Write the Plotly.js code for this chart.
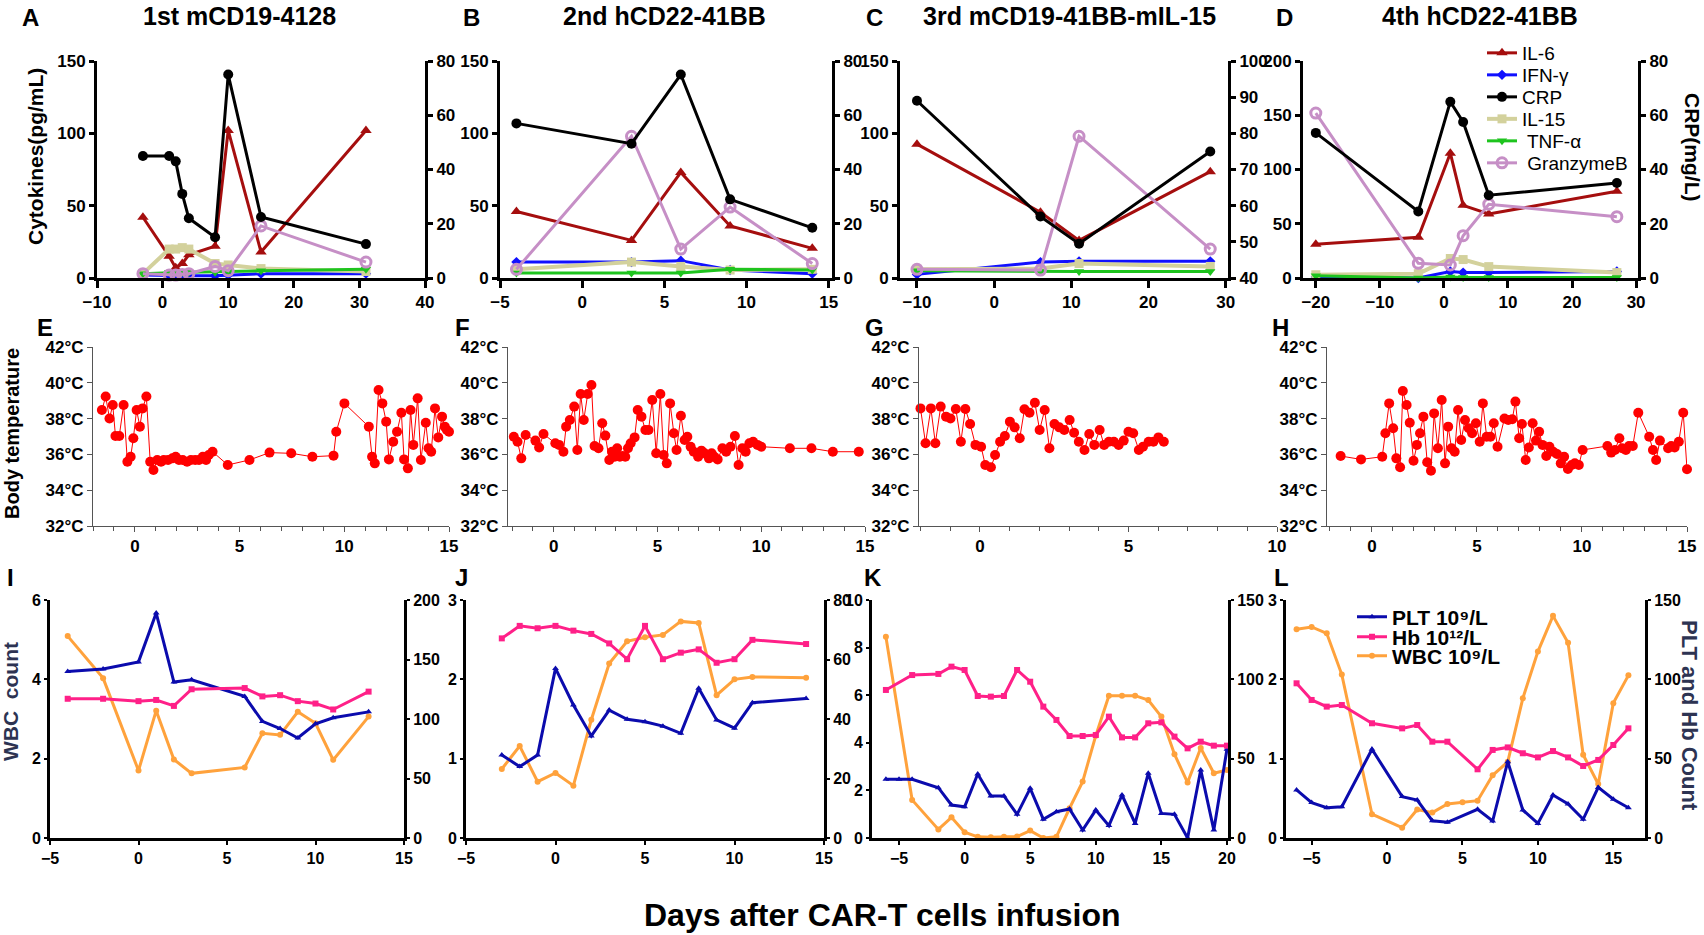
<!DOCTYPE html>
<html><head><meta charset="utf-8">
<script src="https://cdn.plot.ly/plotly-3.0.1.min.js"></script>
<style>html,body{margin:0;padding:0;background:#fff}</style>
</head><body><div id="chart" style="width:1704px;height:935px"></div>
<script>
// ---------------- Row 1: cytokines (pg/mL) and CRP (mg/L) ----------------
const A_day  = [-3, 1, 2, 3, 4, 8, 10, 15, 31];
const A_IL6  = [42, 15, 7, 10, 16, 22, 102, 18, 102];
const A_IFN  = [2, 1.5, 1.5, 1.5, 1.5, 1.5, 2, 3, 3];
const A_CRP  = [45, 45, 43, 31, 22, 15, 75, 22.5, 12.5];
const A_IL15 = [3, 20, 20, 21, 20, 10, 9, 6.5, 4.5];
const A_TNF  = [3, 4, 4, 4, 4, 4, 4.5, 5, 6];
const A_GZMB = [3, 2, 2, 2.5, 3, 8, 5, 36, 11];

const B_day  = [-4, 3, 6, 9, 14];
const B_IL6  = [46, 26, 73, 36, 20.5];
const B_IFN  = [11, 11, 12, 5.5, 3];
const B_CRP  = [57, 49.5, 75, 29, 18.5];
const B_IL15 = [6, 11, 8, 5.5, 6];
const B_TNF  = [3.5, 3.5, 3.5, 6, 5.5];
const B_GZMB = [6, 98, 20, 49, 10];

const C_day  = [-10, 6, 11, 28];
const C_IL6  = [92.5, 45.5, 26, 73.5];
const C_IFN  = [2.5, 11, 11.5, 11.5];
const C_CRP  = [89, 57, 49.5, 75];
const C_IL15 = [6, 6.5, 10, 8];
const C_TNF  = [5, 4.5, 4.5, 4.5];
const C_GZMB = [6, 5.5, 98, 20];

const D_day  = [-20, -4, 1, 3, 7, 27];
const D_IL6  = [31, 37.5, 115, 67, 59, 80];
const D_IFN  = [1, 0, 6, 5, 5, 6];
const D_CRP  = [53.5, 24.5, 65, 57.5, 30.5, 35];
const D_IL15 = [3, 4, 18, 17, 10.5, 5];
const D_TNF  = [2, 0, 1, 0.5, 0.5, 0.5];
const D_GZMB = [152, 13.5, 12, 39, 68, 56.5];

const cytoNames = ['IL-6', 'IFN-γ', 'CRP', 'IL-15', ' TNF-α', ' GranzymeB'];
const panelTitles = ['1st mCD19-4128', '2nd hCD22-41BB', '3rd mCD19-41BB-mIL-15', '4th hCD22-41BB'];

// ---------------- Row 2: body temperature ----------------
const E_day = [-1.575,-1.394,-1.212,-1.057,-0.927,-0.746,-0.539,-0.358,-0.202,-0.073,0.083,0.238,0.368,0.549,0.731,0.886,1.067,1.249,1.378,1.585,1.793,1.948,2.104,2.285,2.492,2.674,2.881,3.062,3.244,3.399,3.528,3.71,4.435,5.472,6.43,7.466,8.477,9.487,9.617,10.005,11.171,11.326,11.456,11.637,11.818,12.0,12.13,12.337,12.518,12.725,12.855,13.036,13.166,13.295,13.503,13.658,13.891,14.021,14.15,14.332,14.487,14.668,14.798,14.9,15.0];
const E_temp = [38.48,39.23,38.01,38.76,37.03,37.03,38.76,35.59,35.87,36.90,38.48,37.55,38.57,39.23,35.59,35.13,35.69,35.59,35.69,35.69,35.78,35.87,35.69,35.69,35.59,35.69,35.69,35.69,35.87,35.69,35.97,36.15,35.41,35.69,36.10,36.06,35.87,35.93,37.27,38.85,37.55,35.87,35.50,39.60,38.85,37.83,35.72,36.71,37.27,38.33,35.72,35.22,38.48,36.53,39.13,35.69,37.77,36.34,36.15,38.57,36.95,38.11,37.55,37.36,37.27];

const F_day = [-1.92,-1.74,-1.56,-1.35,-0.88,-0.70,-0.49,0.08,0.26,0.47,0.60,0.78,0.99,1.14,1.30,1.45,1.64,1.82,1.97,2.16,2.34,2.49,2.68,2.81,2.94,3.06,3.19,3.32,3.45,3.58,3.71,3.90,4.05,4.23,4.42,4.57,4.75,4.94,5.14,5.30,5.45,5.61,5.79,5.92,6.13,6.31,6.44,6.60,6.75,6.96,7.12,7.27,7.48,7.61,7.74,7.90,8.13,8.31,8.52,8.73,8.91,9.09,9.25,9.43,9.61,9.82,10.0,11.38,12.42,13.45,14.7];
const F_temp = [36.99,36.71,35.78,37.08,36.77,36.39,37.14,36.62,36.53,36.15,37.55,37.92,38.67,36.25,39.37,37.92,39.37,39.88,36.47,36.34,37.74,37.05,35.69,36.15,35.87,36.34,35.87,35.91,35.87,36.34,36.62,36.95,38.48,38.11,37.36,37.36,39.04,36.06,39.37,35.97,35.50,38.85,37.18,36.25,38.16,36.80,36.99,36.43,36.15,35.87,36.21,36.06,35.78,36.06,35.87,35.72,36.34,36.15,36.43,37.03,35.41,36.34,36.15,36.62,36.71,36.53,36.43,36.34,36.34,36.15,36.15];

const G_day = [-2.0,-1.83,-1.65,-1.50,-1.32,-1.14,-0.99,-0.81,-0.64,-0.49,-0.33,-0.15,0.04,0.18,0.37,0.51,0.68,0.84,1.01,1.17,1.34,1.50,1.67,1.85,2.01,2.18,2.34,2.51,2.67,2.84,3.02,3.17,3.33,3.52,3.68,3.85,4.03,4.18,4.34,4.51,4.67,4.84,5.00,5.16,5.35,5.49,5.68,5.84,6.01,6.19];
const G_temp = [38.57,36.62,38.57,36.62,38.67,38.11,38.01,38.54,36.71,38.54,37.70,36.53,36.43,35.41,35.28,35.97,36.71,37.03,37.83,37.51,36.90,38.52,38.33,38.89,37.36,38.48,36.34,37.70,37.51,37.36,37.92,37.21,36.71,36.25,37.14,36.53,37.36,36.53,36.71,36.71,36.53,36.77,37.27,37.18,36.25,36.43,36.71,36.71,36.95,36.71];

const H_day = [-1.49,-0.52,0.49,0.64,0.82,1.01,1.16,1.34,1.47,1.65,1.80,1.98,2.14,2.29,2.45,2.63,2.81,2.96,3.14,3.32,3.48,3.63,3.79,3.94,4.10,4.25,4.43,4.61,4.77,4.95,5.13,5.28,5.46,5.64,5.80,5.98,6.31,6.49,6.68,6.83,7.01,7.14,7.32,7.47,7.65,7.81,7.96,8.12,8.30,8.45,8.63,8.81,8.99,9.15,9.33,9.51,9.66,9.85,10.03,11.21,11.39,11.57,11.78,11.91,12.09,12.24,12.42,12.68,13.20,13.38,13.53,13.71,14.10,14.25,14.41,14.61,14.82,15.0];
const H_temp = [35.91,35.72,35.87,37.18,38.85,37.46,35.78,35.28,39.54,38.76,37.77,35.65,36.53,37.18,38.11,35.56,35.09,38.29,36.34,39.04,35.50,37.55,36.34,36.15,38.48,36.80,37.92,37.46,37.18,37.74,36.71,38.85,36.99,36.99,37.74,36.43,38.01,37.92,37.96,38.95,36.90,37.70,35.69,36.39,37.74,36.77,37.27,36.53,35.91,36.43,36.15,36.02,35.50,35.87,35.18,35.41,35.50,35.41,36.25,36.47,36.10,36.25,36.90,36.34,36.25,36.47,36.47,38.33,36.99,36.25,35.69,36.77,36.34,36.47,36.39,36.71,38.33,35.17];

// ---------------- Row 3: blood counts ----------------
const I_day = [-4, -2, 0, 1, 2, 3, 6, 7, 8, 9, 10, 11, 13];
const I_WBC = [5.09, 4.03, 1.70, 3.21, 1.98, 1.63, 1.78, 2.64, 2.60, 3.18, 2.89, 1.97, 3.06];
const I_PLT = [140, 142, 148, 189, 131, 133, 119, 98, 92, 84, 96, 101, 106];
const I_Hb  = [117, 117, 115, 116, 111, 125, 126, 119, 120, 115, 113, 108, 123];

const J_day = [-3, -2, -1, 0, 1, 2, 3, 4, 5, 6, 7, 8, 9, 10, 11, 14];
const J_WBC = [0.87, 1.16, 0.71, 0.82, 0.66, 1.49, 2.20, 2.48, 2.53, 2.56, 2.73, 2.71, 1.80, 2.00, 2.03, 2.02];
const J_PLT = [27.9, 24.0, 27.9, 57.0, 44.7, 34.3, 43.0, 39.9, 39.1, 37.6, 35.2, 50.3, 39.7, 36.9, 45.5, 46.9];
const J_Hb  = [67.1, 71.3, 70.5, 71.3, 69.7, 68.6, 65.4, 60.1, 71.3, 60.1, 62.3, 63.4, 58.9, 60.1, 66.6, 65.2];

const K_wbcDay = [-6, -4, -2, -1, 0, 1, 2, 3, 4, 5, 6, 7, 8, 9, 10, 11, 12, 13, 14, 15, 16, 17, 18, 19, 20];
const K_WBC = [8.46, 1.6, 0.36, 0.87, 0.24, 0.05, 0.03, 0.05, 0.06, 0.31, 0.0, 0.05, 1.25, 2.37, 4.3, 5.98, 5.98, 5.98, 5.80, 5.1, 3.52, 2.33, 3.78, 2.72, 2.86];
const K_pltDay = [-6, -5, -4, -2, -1, 0, 1, 2, 3, 4, 5, 6, 7, 8, 9, 10, 11, 12, 13, 14, 15, 16, 17, 18, 19, 20];
const K_PLT = [37, 37, 37, 31.7, 20.8, 19.7, 40.3, 26.5, 26.5, 14.9, 31.3, 11.8, 16.6, 18.3, 5.0, 17.6, 7.8, 27.1, 9.2, 40.8, 15.5, 14.9, 0, 42.9, 5.0, 55.9];
const K_hbDay = [-6, -4, -2, -1, 0, 1, 2, 3, 4, 5, 6, 7, 8, 9, 10, 11, 12, 13, 14, 15, 16, 17, 18, 19, 20];
const K_Hb  = [93.3, 102.7, 103.4, 108, 105.9, 89.5, 89.1, 89.5, 105.9, 98.5, 82.8, 74.4, 64.3, 64.3, 64.9, 76.5, 63.4, 63.4, 72.3, 72.9, 63.9, 56.5, 60.7, 58.2, 58.2];

const L_wbcDay = [-6, -5, -4, -3, -1, 1, 2, 3, 4, 5, 6, 7, 8, 9, 10, 11, 12, 13, 14, 15, 16];
const L_WBC = [2.63, 2.66, 2.58, 2.06, 0.30, 0.13, 0.36, 0.32, 0.43, 0.45, 0.47, 0.79, 0.96, 1.76, 2.35, 2.80, 2.46, 1.05, 0.68, 1.70, 2.05];
const L_day = [-6, -5, -4, -3, -1, 1, 2, 3, 4, 6, 7, 8, 9, 10, 11, 12, 13, 14, 15, 16];
const L_PLT = [30.3, 22.3, 19.1, 19.7, 55.9, 26.1, 23.9, 10.9, 9.9, 18.1, 10.7, 48.1, 17.6, 9.2, 27.1, 21.4, 11.8, 31.9, 24.4, 19.1];
const L_Hb  = [97.5, 87.0, 82.8, 83.8, 72.3, 69.1, 71.2, 60.7, 60.7, 43.3, 55.5, 57.1, 53.4, 50.8, 54.8, 50.8, 45.4, 49.2, 58.6, 69.1];

const bloodNames = ['PLT 10⁹/L', 'Hb 10¹²/L', 'WBC 10⁹/L'];

// ---------------- styling ----------------
const W = 1704, H = 935;
const FONT = 'Liberation Sans, Arial, Helvetica, sans-serif';
const COL = {IL6:'#a50e0e', IFN:'#1010ff', CRP:'#000000', IL15:'#d3d19c', TNF:'#1ec41e', GZMB:'#c68fc6',
             PLT:'#0b0bad', Hb:'#ff2088', WBC:'#ffa23c', TEMP:'#ff0000'};
const px = v => v / W;
const py = v => 1 - v / H;

const layout = {
  width: W, height: H, margin: {l:0, r:0, t:0, b:0},
  paper_bgcolor: '#ffffff', plot_bgcolor: 'rgba(0,0,0,0)',
  showlegend: true,
  font: {family: FONT, color: '#000'},
  annotations: []
};
const traces = [];

// one legend box per entry, so each entry sits at its own row like the reference
const legendRows1 = [53, 75, 97, 119, 141, 163];
const legendRows2 = [617, 637, 656];
legendRows1.forEach((yy, k) => {
  layout['legend' + (k === 0 ? '' : (k + 1))] = {
    x: px(1482), y: py(yy), xanchor: 'left', yanchor: 'middle', bgcolor: 'rgba(0,0,0,0)',
    borderwidth: 0, font: {family: FONT, size: 19, color: '#000'}, itemwidth: 30
  };
});
legendRows2.forEach((yy, k) => {
  layout['legend' + (k + 7)] = {
    x: px(1352), y: py(yy), xanchor: 'left', yanchor: 'middle', bgcolor: 'rgba(0,0,0,0)',
    borderwidth: 0, font: {family: FONT, size: 21, color: '#000', weight: 'bold'}, itemwidth: 30
  };
});

function refName(p, n) { return n === 1 ? p : p + n; }
function axKey(p, n) { return n === 1 ? p + 'axis' : p + 'axis' + n; }

function setAxes(xn, yl, yr, box, xr, xdtick, ylr, yldt, yrr, yrdt, st) {
  const xd = [px(box[0]), px(box[1])];
  const yd = [py(box[3]), py(box[2])];
  const tf = {family: FONT, size: st.fs, color: '#000', weight: 'bold'};
  layout[axKey('x', xn)] = Object.assign({
    domain: xd, anchor: refName('y', yl), range: xr, dtick: xdtick, tick0: 0,
    showline: true, linecolor: st.lc, linewidth: st.lw, ticks: 'outside', ticklen: st.xtl || st.tl,
    tickwidth: st.tw, tickcolor: st.lc, showgrid: false, zeroline: false, tickfont: tf
  }, st.xextra || {});
  layout[axKey('y', yl)] = Object.assign({
    domain: yd, anchor: refName('x', xn), range: ylr, dtick: yldt, tick0: ylr[0],
    showline: true, linecolor: st.lc, linewidth: st.lw, ticks: 'outside', ticklen: st.tl,
    tickwidth: st.tw, tickcolor: st.lc, showgrid: false, zeroline: false, tickfont: tf, ticklabelstandoff: 0
  }, st.yextra || {});
  if (yr) {
    layout[axKey('y', yr)] = {
      overlaying: refName('y', yl), side: 'right', anchor: refName('x', xn),
      range: yrr, dtick: yrdt, tick0: yrr[0],
      showline: true, linecolor: st.lc, linewidth: st.lw, ticks: 'outside', ticklen: st.tl,
      tickwidth: st.tw, tickcolor: st.lc, showgrid: false, zeroline: false, tickfont: tf, ticklabelstandoff: 0
    };
  }
}

function line(x, y, xn, yn, color, sym, size, name, show, lg, extra) {
  const t = {
    type: 'scatter', mode: 'lines+markers', x: x, y: y, name: name,
    xaxis: refName('x', xn), yaxis: refName('y', yn), cliponaxis: false,
    line: {color: color, width: 3},
    marker: {symbol: sym, size: size, color: color},
    showlegend: show, legend: lg
  };
  return Object.assign(t, extra || {});
}

// Row 1 panels
const row1Style = {lc:'#000', lw:3, tl:5, xtl:7, tw:3, fs:17};
const row1 = [
  {box:[97,425,61,278],   xr:[-10,40],     xdt:10, yl:[0,150], yr:[0,80],   yrdt:20, d:A_day, v:[A_IL6,A_IFN,A_CRP,A_IL15,A_TNF,A_GZMB]},
  {box:[500,832,61,278],  xr:[-5,15.2],    xdt:5,  yl:[0,150], yr:[0,80],   yrdt:20, d:B_day, v:[B_IL6,B_IFN,B_CRP,B_IL15,B_TNF,B_GZMB]},
  {box:[900,1228,61,278], xr:[-12.2,30.3], xdt:10, yl:[0,150], yr:[40,100], yrdt:10, d:C_day, v:[C_IL6,C_IFN,C_CRP,C_IL15,C_TNF,C_GZMB]},
  {box:[1303,1638,61,278],xr:[-22,30.3],   xdt:10, yl:[0,200], yr:[0,80],   yrdt:20, d:D_day, v:[D_IL6,D_IFN,D_CRP,D_IL15,D_TNF,D_GZMB]}
];
const lg1 = ['legend', 'legend2', 'legend3', 'legend4', 'legend5', 'legend6'];
row1.forEach((p, i) => {
  const xn = i + 1, yl = 2 * i + 1, yr = 2 * i + 2;
  setAxes(xn, yl, yr, p.box, p.xr, p.xdt, p.yl, 50, p.yr, p.yrdt, row1Style);
  const show = (i === 3);
  traces.push(line(p.d, p.v[0], xn, yl, COL.IL6, 'triangle-up', 10, cytoNames[0], show, lg1[0]));
  traces.push(line(p.d, p.v[1], xn, yl, COL.IFN, 'diamond', 8, cytoNames[1], show, lg1[1]));
  traces.push(line(p.d, p.v[2], xn, yr, COL.CRP, 'circle', 10, cytoNames[2], show, lg1[2]));
  traces.push(line(p.d, p.v[3], xn, yl, COL.IL15, 'square', 9, cytoNames[3], show, lg1[3],
    {line: {color: COL.IL15, width: 4}}));
  traces.push(line(p.d, p.v[4], xn, yl, COL.TNF, 'triangle-down', 9, cytoNames[4], show, lg1[4]));
  traces.push(line(p.d, p.v[5], xn, yl, COL.GZMB, 'circle-open', 10, cytoNames[5], show, lg1[5],
    {marker: {symbol: 'circle-open', size: 10, color: COL.GZMB, line: {width: 3, color: COL.GZMB}}}));
});

// Row 2 panels
const row2Style = {lc:'#555', lw:1, tl:5, tw:1, fs:17,
  xextra: {minor: {dtick: 1, ticks: 'outside', ticklen: 4, tickwidth: 1, tickcolor: '#555', showgrid: false}},
  yextra: {ticksuffix: '°C'}};
const row2 = [
  {box:[93,449,347,526],   xr:[-2,15],     d:E_day, t:E_temp},
  {box:[508,865,347,526],  xr:[-2.2,15],   d:F_day, t:F_temp},
  {box:[919,1277,347,526], xr:[-2.05,10],  d:G_day, t:G_temp},
  {box:[1327,1687,347,526],xr:[-2.14,15],  d:H_day, t:H_temp}
];
row2.forEach((p, i) => {
  const xn = 5 + i, yn = 9 + i;
  setAxes(xn, yn, null, p.box, p.xr, 5, [32, 42], 2, null, null, row2Style);
  traces.push({type:'scatter', mode:'lines+markers', x:p.d, y:p.t, xaxis:refName('x',xn), yaxis:refName('y',yn),
    cliponaxis:false, showlegend:false, line:{color:COL.TEMP, width:1}, marker:{color:COL.TEMP, size:10, symbol:'circle'}});
});

// Row 3 panels
const row3Style = {lc:'#000', lw:3, tl:3, xtl:4, tw:2, fs:16};
const row3 = [
  {box:[50,404,600,838],   xr:[-5,15],       yl:[0,6],  yldt:2, yr:[0,200], yrdt:50,
   wd:I_day, w:I_WBC, pd:I_day, p:I_PLT, hd:I_day, h:I_Hb},
  {box:[466,824,600,838],  xr:[-5,15],       yl:[0,3],  yldt:1, yr:[0,80],  yrdt:20,
   wd:J_day, w:J_WBC, pd:J_day, p:J_PLT, hd:J_day, h:J_Hb},
  {box:[872,1228,600,838], xr:[-7.06,20.08], yl:[0,10], yldt:2, yr:[0,150], yrdt:50,
   wd:K_wbcDay, w:K_WBC, pd:K_pltDay, p:K_PLT, hd:K_hbDay, h:K_Hb},
  {box:[1286,1645,600,838],xr:[-6.7,17.1],   yl:[0,3],  yldt:1, yr:[0,150], yrdt:50,
   wd:L_wbcDay, w:L_WBC, pd:L_day, p:L_PLT, hd:L_day, h:L_Hb}
];
row3.forEach((q, i) => {
  const xn = 9 + i, yl = 13 + 2 * i, yr = 14 + 2 * i;
  setAxes(xn, yl, yr, q.box, q.xr, 5, q.yl, q.yldt, q.yr, q.yrdt, row3Style);
  const show = (i === 3);
  traces.push(line(q.pd, q.p, xn, yr, COL.PLT, 'triangle-up', 6, bloodNames[0], show, 'legend7'));
  traces.push(line(q.hd, q.h, xn, yr, COL.Hb, 'square', 6, bloodNames[1], show, 'legend8'));
  traces.push(line(q.wd, q.w, xn, yl, COL.WBC, 'circle', 6, bloodNames[2], show, 'legend9'));
});

// ---------------- text annotations ----------------
function ann(text, x, y, size, opts) {
  layout.annotations.push(Object.assign({
    text: text, x: px(x), y: py(y), xref: 'paper', yref: 'paper', showarrow: false,
    xanchor: 'center', yanchor: 'middle',
    font: {family: FONT, size: size, color: '#000', weight: 'bold'}
  }, opts || {}));
}
const letters = [['A',31,17],['B',471,17],['C',874,17],['D',1284,17],
                 ['E',45,327],['F',462,327],['G',874,327],['H',1280,327],
                 ['I',10,577],['J',461,577],['K',873,577],['L',1281,577]];
letters.forEach(l => ann(l[0], l[1], l[2], 24));
ann(panelTitles[0], 239, 16, 25);
ann(panelTitles[1], 664, 16, 25);
ann(panelTitles[2], 1069, 16, 25);
ann(panelTitles[3], 1480, 16, 25);
ann('Cytokines(pg/mL)', 35, 157, 21, {textangle: -90});
ann('CRP(mg/L)', 1693, 147, 21, {textangle: 90});
ann('Body temperature', 12, 434, 20, {textangle: -90});
ann('WBC  count', 10, 702, 21, {textangle: -90, font: {family: FONT, size: 21, color: '#2d3352', weight: 'bold'}});
ann('PLT and Hb Count', 1690, 715, 22, {textangle: 90, font: {family: FONT, size: 22, color: '#2d3352', weight: 'bold'}});
ann('Days after CAR-T cells infusion', 883, 915, 32);

Plotly.newPlot('chart', traces, layout, {displayModeBar: false, staticPlot: true});
</script>
</body></html>
